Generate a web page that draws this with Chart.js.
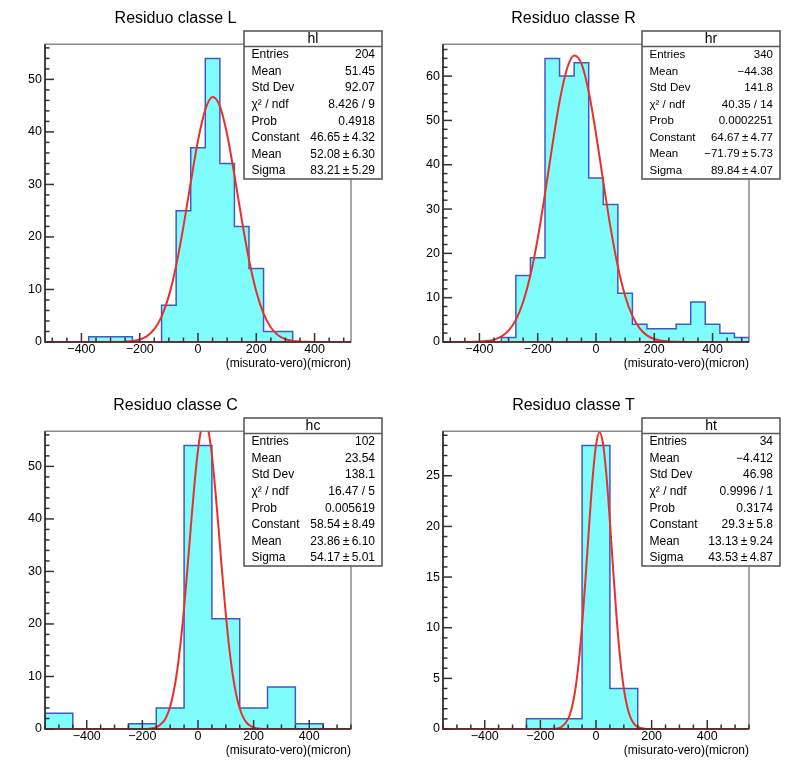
<!DOCTYPE html>
<html><head><meta charset="utf-8">
<script src="https://cdn.jsdelivr.net/npm/chart.js@4.4.0/dist/chart.umd.min.js"></script>
<style>
html,body{margin:0;padding:0;background:#fff;}
#wrap{position:relative;width:798px;height:775px;background:#fff;}
canvas{position:absolute;}
</style></head><body>
<div id="wrap">
<canvas id="cL" width="399" height="388" style="left:0px;top:0px;width:399px;height:388px"></canvas>
<canvas id="cR" width="399" height="388" style="left:398px;top:0px;width:399px;height:388px"></canvas>
<canvas id="cC" width="399" height="388" style="left:0px;top:387px;width:399px;height:388px"></canvas>
<canvas id="cT" width="399" height="388" style="left:398px;top:387px;width:399px;height:388px"></canvas>
</div>
<script>
// ---------- DATA ----------
const titleL = "Residuo classe L", titleR = "Residuo classe R", titleC = "Residuo classe C", titleT = "Residuo classe T";
const xAxisTitle = "(misurato-vero)(micron)";
const xTickValues = [-400, -200, 0, 200, 400];

// bin low edges (50-wide bins, -525..525) for L and R
const binLowLR = [-525,-475,-425,-375,-325,-275,-225,-175,-125,-75,-25,25,75,125,175,225,275,325,375,425,475];
const binHighLR = 525;
const countsL = [0,0,0,1,1,1,0,0,7,25,37,54,34,22,14,2,2,0,0,0,0];
const countsR = [0,0,0,0,1,15,19,64,60,63,37,31,11,4,3,3,4,9,4,2,1];
// bin low edges (100-wide bins, -550..550) for C and T
const binLowCT = [-550,-450,-350,-250,-150,-50,50,150,250,350,450];
const binHighCT = 550;
const countsC = [3,0,0,1,4,54,21,4,8,1,0];
const countsT = [0,0,0,1,1,28,4,0,0,0,0];

const yTicksL = [0,10,20,30,40,50];
const yTicksR = [0,10,20,30,40,50,60];
const yTicksC = [0,10,20,30,40,50];
const yTicksT = [0,5,10,15,20,25];
const yMaxL = 56.7, yMaxR = 67.2, yMaxC = 56.7, yMaxT = 29.4;

// fitted gaussian curves
const fitXL = [-525,-500,-475,-450,-425,-400,-375,-350,-325,-300,-275,-250,-225,-200,-175,-150,-125,-100,-75,-50,-25,0,25,50,75,100,125,150,175,200,225,250,275,300,325,350,375,400,425,450,475,500,525];
const fitYL = [0,0,0,0,0,0,0.0001,0.0004,0.0016,0.006,0.02,0.064,0.18,0.47,1.12,2.44,4.84,8.78,14.52,21.97,30.37,38.35,44.24,46.64,44.92,39.51,31.78,23.35,15.67,9.61,5.38,2.76,1.29,0.55,0.215,0.077,0.025,0.0075,0.002,0,0,0,0];
const fitXR = [-525,-500,-475,-450,-425,-400,-375,-350,-325,-300,-275,-250,-225,-200,-175,-150,-125,-100,-75,-50,-25,0,25,50,75,100,125,150,175,200,225,250,275,300,325,350,375,400,425,450,475,500,525];
const fitYR = [0,0.0008,0.003,0.009,0.028,0.082,0.217,0.534,1.216,2.56,5.00,9.04,15.10,23.34,33.42,44.27,54.27,61.56,64.63,62.80,56.47,47.00,36.19,25.80,17.02,10.39,5.88,3.07,1.49,0.666,0.276,0.106,0.038,0.012,0.004,0.001,0,0,0,0,0,0,0];
const fitXC = [-550,-500,-450,-400,-350,-300,-250,-225,-200,-175,-150,-125,-112.5,-100,-87.5,-75,-62.5,-50,-37.5,-25,-12.5,0,12.5,25,37.5,50,62.5,75,87.5,100,112.5,125,137.5,150,162.5,175,187.5,200,225,250,275,300,350,400,450,500,550];
const fitYC = [0,0,0,0,0,0,0.0001,0.0015,0.011,0.068,0.334,1.34,2.46,4.29,7.08,11.08,16.42,23.10,30.82,38.98,46.73,53.12,57.27,58.53,56.71,52.11,45.39,37.49,29.36,21.80,15.35,10.25,6.49,3.89,2.21,1.19,0.61,0.296,0.059,0.0096,0.001,0,0,0,0,0,0];
const fitXT = [-550,-500,-450,-400,-350,-300,-250,-200,-175,-150,-125,-100,-87.5,-75,-62.5,-50,-37.5,-25,-12.5,0,12.5,25,37.5,50,62.5,75,87.5,100,112.5,125,137.5,150,175,200,250,300,350,400,450,500,550];
const fitYT = [0,0,0,0,0,0,0,0.0001,0.0026,0.026,0.190,1.00,2.03,3.77,6.48,10.24,14.90,19.96,24.64,28.00,29.30,28.23,25.05,20.47,15.40,10.67,6.81,4.00,2.16,1.08,0.49,0.208,0.029,0.003,0,0,0,0,0,0,0];

// stats boxes
const statsNameL = "hl", statsNameR = "hr", statsNameC = "hc", statsNameT = "ht";
const statsL = [["Entries","204"],["Mean","51.45"],["Std Dev","92.07"],["χ² / ndf","8.426 / 9"],["Prob","0.4918"],["Constant","46.65\u2009±\u20094.32"],["Mean","52.08\u2009±\u20096.30"],["Sigma","83.21\u2009±\u20095.29"]];
const statsR = [["Entries","340"],["Mean","\u221244.38"],["Std Dev","141.8"],["χ² / ndf","40.35 / 14"],["Prob","0.0002251"],["Constant","64.67\u2009±\u20094.77"],["Mean","\u221271.79\u2009±\u20095.73"],["Sigma","89.84\u2009±\u20094.07"]];
const statsC = [["Entries","102"],["Mean","23.54"],["Std Dev","138.1"],["χ² / ndf","16.47 / 5"],["Prob","0.005619"],["Constant","58.54\u2009±\u20098.49"],["Mean","23.86\u2009±\u20096.10"],["Sigma","54.17\u2009±\u20095.01"]];
const statsT = [["Entries","34"],["Mean","\u22124.412"],["Std Dev","46.98"],["χ² / ndf","0.9996 / 1"],["Prob","0.3174"],["Constant","29.3\u2009±\u20095.8"],["Mean","13.13\u2009±\u20099.24"],["Sigma","43.53\u2009±\u20094.87"]];

// ---------- STYLE / DRAW ----------
const FONT = "'Liberation Sans', Arial, Helvetica, sans-serif";
const fmt = v => (v < 0 ? "\u2212" + Math.abs(v) : String(v));

const rootAxes = {
  id: 'rootAxes',
  afterDatasetsDraw(chart, args, o) {
    const ctx = chart.ctx, a = chart.chartArea, xs = chart.scales.x, ys = chart.scales.y;
    ctx.save();
    ctx.strokeStyle = '#6e6e6e'; ctx.lineWidth = 1.2;
    ctx.strokeRect(a.left, a.top, a.right - a.left, a.bottom - a.top);
    ctx.strokeStyle = '#333'; ctx.lineWidth = 1.5;
    for (let v = o.xMinorStart; v <= xs.max + 1e-9; v += o.xMinor) {
      const px = xs.getPixelForValue(v);
      const major = Math.abs((v / o.xMajor) - Math.round(v / o.xMajor)) < 1e-6;
      const len = major ? 9 : 4.5;
      ctx.beginPath(); ctx.moveTo(px, a.bottom); ctx.lineTo(px, a.bottom - len); ctx.stroke();
    }
    for (let v = 0; v <= ys.max + 1e-9; v += o.yMinor) {
      const py = ys.getPixelForValue(v);
      const major = Math.abs((v / o.yMajor) - Math.round(v / o.yMajor)) < 1e-6;
      const len = major ? 9 : 4.5;
      ctx.beginPath(); ctx.moveTo(a.left, py); ctx.lineTo(a.left + len, py); ctx.stroke();
    }
    ctx.strokeStyle = '#2a2a2a'; ctx.lineWidth = 1.6;
    ctx.beginPath(); ctx.moveTo(a.left, a.top); ctx.lineTo(a.left, a.bottom); ctx.lineTo(a.right, a.bottom); ctx.stroke();
    // fit curve tail along the baseline is drawn over the axis (as in the original)
    ctx.strokeStyle = 'rgba(160,20,20,0.55)'; ctx.lineWidth = 1.2;
    ctx.beginPath(); ctx.moveTo(a.left, a.bottom - 0.3); ctx.lineTo(a.right, a.bottom - 0.3); ctx.stroke();
    ctx.restore();
  },
  afterDraw(chart, args, o) {
    if (!o.rows) return;
    const ctx = chart.ctx;
    const x = o.x, y = o.y, w = o.w, h = o.h;
    ctx.save();
    ctx.fillStyle = '#fff'; ctx.fillRect(x, y, w, h);
    ctx.strokeStyle = '#5a5a5a'; ctx.lineWidth = 1.6;
    ctx.strokeRect(x, y, w, h);
    ctx.beginPath(); ctx.moveTo(x, y + 15.5); ctx.lineTo(x + w, y + 15.5); ctx.stroke();
    ctx.fillStyle = '#000';
    ctx.textBaseline = 'middle';
    ctx.font = '14px ' + FONT; ctx.textAlign = 'center';
    ctx.fillText(o.name, x + w / 2, y + 8.5);
    ctx.font = o.fontSize + 'px ' + FONT;
    o.rows.forEach((r, i) => {
      const cy = y + 24 + i * 16.55;
      ctx.textAlign = 'left'; ctx.fillText(r[0], x + 7.5, cy);
      ctx.textAlign = 'right'; ctx.fillText(r[1], x + w - 7, cy);
    });
    ctx.restore();
  }
};

function histPoints(lows, high, counts) {
  const pts = [{x: lows[0], y: 0}];
  lows.forEach((lo, i) => pts.push({x: lo, y: counts[i]}));
  pts.push({x: high, y: counts[counts.length - 1]});
  pts.push({x: high, y: 0});
  return pts;
}

function makePanel(id, p) {
  const tickFont = {family: FONT, size: 12.5};
  new Chart(document.getElementById(id), {
    type: 'line',
    data: {
      datasets: [
        {
          data: p.fitX.map((xv, i) => ({x: xv, y: p.fitY[i]})),
          borderColor: '#e8302a', borderWidth: 2, pointRadius: 0,
          cubicInterpolationMode: 'monotone', fill: false, order: 1
        },
        {
          data: histPoints(p.lows, p.high, p.counts),
          stepped: 'before', borderColor: '#4358c2', borderWidth: 1.5,
          backgroundColor: '#7ffcfc', fill: 'origin', pointRadius: 0, tension: 0, order: 2
        }
      ]
    },
    options: {
      responsive: false, animation: false, devicePixelRatio: 1,
      layout: {padding: {left: 0, right: 48, top: 0, bottom: 0}},
      plugins: {
        legend: {display: false}, tooltip: {enabled: false},
        title: {display: true, text: p.title, color: '#000', font: {family: FONT, size: 16, weight: 'normal'}, padding: {top: 9, bottom: 16}},
        rootAxes: {xMinorStart: p.xMinorStart, xMinor: 50, xMajor: 200, yMinor: p.yMinor, yMajor: p.yMajor,
          rows: p.stats, name: p.statsName, fontSize: p.statsFont, x: 244, y: 31, w: 138, h: 148}
      },
      scales: {
        x: {
          type: 'linear', min: p.xMin, max: p.xMax,
          afterBuildTicks: s => { s.ticks = xTickValues.map(v => ({value: v})); },
          ticks: {callback: v => fmt(v), color: '#000', font: tickFont, maxRotation: 0, autoSkip: false, padding: 0},
          grid: {display: false, drawTicks: false}, border: {display: false},
          title: {display: true, text: xAxisTitle, align: 'end', color: '#000', font: {family: FONT, size: 12}, padding: {top: 0, bottom: 17}},
          afterFit: s => { s.height = 46; }
        },
        y: {
          type: 'linear', min: 0, max: p.yMax,
          afterBuildTicks: s => { s.ticks = p.yTicks.map(v => ({value: v})); },
          ticks: {callback: v => fmt(v), color: '#000', font: tickFont, padding: 3},
          grid: {display: false, drawTicks: false}, border: {display: false},
          afterFit: s => { s.width = 45; }
        }
      }
    },
    plugins: [rootAxes]
  });
}

makePanel('cL', {title: titleL, lows: binLowLR, high: binHighLR, counts: countsL, fitX: fitXL, fitY: fitYL,
  xMin: -525, xMax: 525, xMinorStart: -500, yMax: yMaxL, yTicks: yTicksL, yMinor: 2, yMajor: 10,
  stats: statsL, statsName: statsNameL, statsFont: 12});
makePanel('cR', {title: titleR, lows: binLowLR, high: binHighLR, counts: countsR, fitX: fitXR, fitY: fitYR,
  xMin: -525, xMax: 525, xMinorStart: -500, yMax: yMaxR, yTicks: yTicksR, yMinor: 2, yMajor: 10,
  stats: statsR, statsName: statsNameR, statsFont: 11.5});
makePanel('cC', {title: titleC, lows: binLowCT, high: binHighCT, counts: countsC, fitX: fitXC, fitY: fitYC,
  xMin: -550, xMax: 550, xMinorStart: -550, yMax: yMaxC, yTicks: yTicksC, yMinor: 2, yMajor: 10,
  stats: statsC, statsName: statsNameC, statsFont: 12});
makePanel('cT', {title: titleT, lows: binLowCT, high: binHighCT, counts: countsT, fitX: fitXT, fitY: fitYT,
  xMin: -550, xMax: 550, xMinorStart: -550, yMax: yMaxT, yTicks: yTicksT, yMinor: 1, yMajor: 5,
  stats: statsT, statsName: statsNameT, statsFont: 12});
</script>
</body></html>
